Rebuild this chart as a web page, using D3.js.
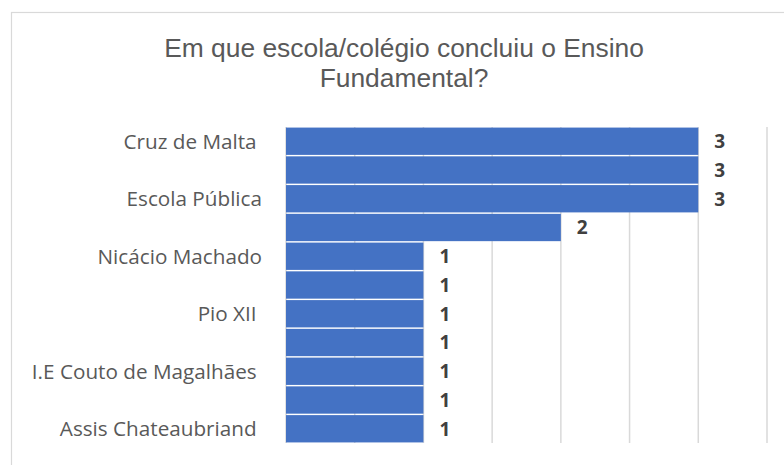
<!DOCTYPE html>
<html>
<head>
<meta charset="utf-8">
<script src="https://cdn.jsdelivr.net/npm/d3@7"></script>
<style>
  html, body { margin: 0; padding: 0; background: #fff; }
  svg text { white-space: pre; }
</style>
</head>
<body>
<svg id="chart" width="784" height="465"></svg>
<script>
const title = ["Em que escola/colégio concluiu o Ensino", "Fundamental?"];
// 11 categories; only every other label is shown in the reference
const categories = ["Cruz de Malta ", "", "Escola Pública", "", "Nicácio Machado", "", "Pio XII ", "", "I.E Couto de Magalhães ", "", "Assis Chateaubriand "];
const values = [3, 3, 3, 2, 1, 1, 1, 1, 1, 1, 1];
const xTicks = [0, 0.5, 1, 1.5, 2, 2.5, 3, 3.5];

const svg = d3.select("#chart");

// outer chart border (top and left visible)
svg.append("rect")
  .attr("x", 11.5).attr("y", 12.5)
  .attr("width", 800).attr("height", 480)
  .attr("fill", "#fff").attr("stroke", "#d9d9d9").attr("stroke-width", 1.2);

const plot = { left: 286, right: 767, top: 127, bottom: 443 };

const x = d3.scaleLinear().domain([0, 3.5]).range([plot.left, plot.right]);
const y = d3.scaleBand().domain(d3.range(categories.length))
  .range([plot.top, plot.bottom]).paddingInner(0.05).paddingOuter(0.02);

// title
svg.append("text")
  .attr("text-anchor", "middle")
  .attr("font-family", "Liberation Sans, Arial, sans-serif")
  .attr("font-size", 26.4).attr("fill", "#595959")
  .selectAll("tspan").data(title).join("tspan")
  .attr("x", 404).attr("y", (d, i) => 57 + i * 30)
  .text(d => d);

// gridlines
svg.append("g")
  .selectAll("line").data(xTicks).join("line")
  .attr("x1", d => x(d)).attr("x2", d => x(d))
  .attr("y1", plot.top).attr("y2", plot.bottom)
  .attr("stroke", "#d9d9d9").attr("stroke-width", 1.5);

// bars
svg.append("g")
  .selectAll("rect").data(values).join("rect")
  .attr("x", x(0))
  .attr("y", (d, i) => y(i))
  .attr("width", d => x(d) - x(0))
  .attr("height", y.bandwidth())
  .attr("fill", "#4472C4");

// value labels
svg.append("g")
  .selectAll("text").data(values).join("text")
  .attr("x", d => x(d) + 16)
  .attr("y", (d, i) => y(i) + y.bandwidth() / 2)
  .attr("dy", "0.36em")
  .attr("font-family", "Open Sans, Liberation Sans, sans-serif")
  .attr("font-weight", "bold")
  .attr("font-size", 19).attr("fill", "#404040")
  .text(d => d);

// category labels
svg.append("g")
  .selectAll("text").data(categories).join("text")
  .attr("x", 262)
  .attr("y", (d, i) => y(i) + y.bandwidth() / 2)
  .attr("dy", "0.36em")
  .attr("text-anchor", "end")
  .attr("font-family", "Open Sans, Liberation Sans, sans-serif")
  .attr("font-size", 20.7).attr("fill", "#595959")
  .text(d => d);
</script>
</body>
</html>
